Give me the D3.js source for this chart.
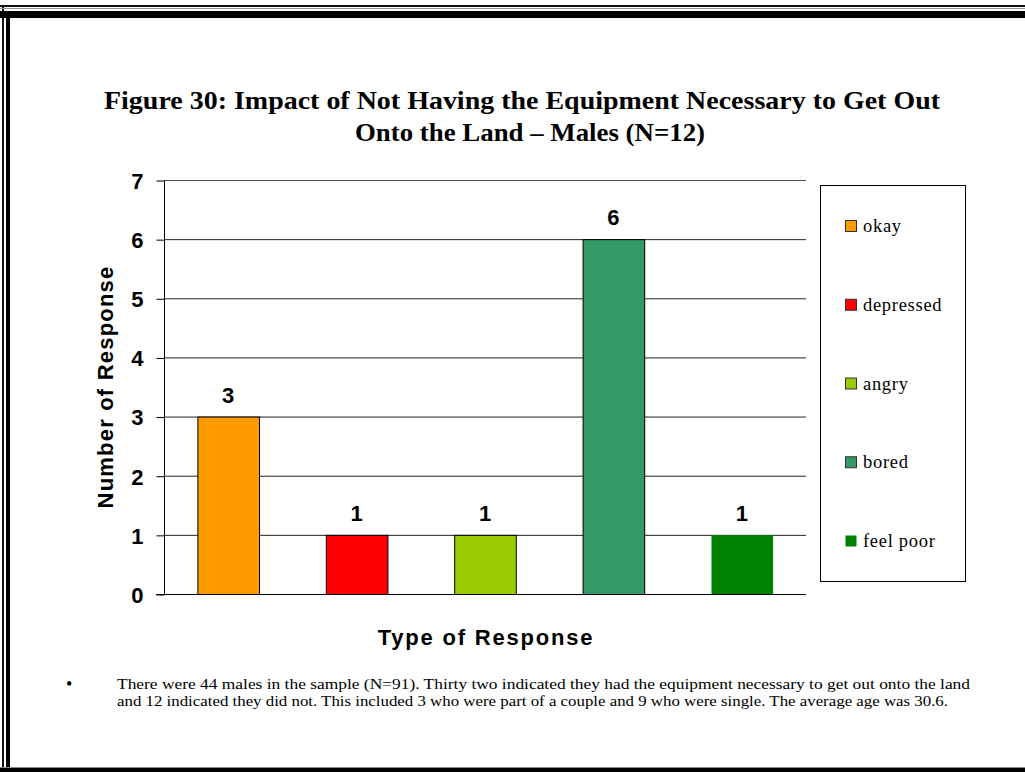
<!DOCTYPE html>
<html>
<head>
<meta charset="utf-8">
<script src="https://cdn.jsdelivr.net/npm/d3@7"></script>
<style>
  html, body { margin: 0; padding: 0; background: #fff; }
  svg { display: block; }
</style>
</head>
<body>
<div id="chart"></div>
<script>
// data
const categories = ['okay', 'depressed', 'angry', 'bored', 'feel poor'];
const values = [3, 1, 1, 6, 1];
const colors = ['#FF9900', '#FF0000', '#99CC00', '#339966', '#008000'];
const yTicks = [0, 1, 2, 3, 4, 5, 6, 7];
const titleLines = [
  'Figure 30: Impact of Not Having the Equipment Necessary to Get Out',
  'Onto the Land \u2013 Males (N=12)'
];
const noteLines = [
  'There were 44 males in the sample (N=91). Thirty two indicated they had the equipment necessary to get out onto the land',
  'and 12 indicated they did not. This included 3 who were part of a couple and 9 who were single. The average age was 30.6.'
];

const width = 1025, height = 772;
const plot = { left: 164, right: 806, top: 180, bottom: 594 };

const svg = d3.select('#chart').append('svg')
  .attr('width', width)
  .attr('height', height);

// page frame
const frame = svg.append('g');
frame.append('rect').attr('x', 0).attr('y', 5).attr('width', width).attr('height', 2).attr('fill', '#111');
frame.append('rect').attr('x', 2).attr('y', 5).attr('width', 2).attr('height', height).attr('fill', '#111');
frame.append('rect').attr('x', 0).attr('y', 8).attr('width', width).attr('height', 1).attr('fill', '#999');
frame.append('rect').attr('x', 0).attr('y', 11).attr('width', width).attr('height', 7).attr('fill', '#000');
frame.append('rect').attr('x', 6).attr('y', 11).attr('width', 4).attr('height', height).attr('fill', '#000');
frame.append('rect').attr('x', 0).attr('y', 768).attr('width', width).attr('height', 4).attr('fill', '#000');
frame.append('rect').attr('x', 0).attr('y', 767).attr('width', width).attr('height', 1).attr('fill', '#888');

// title
svg.append('g')
  .selectAll('text')
  .data(titleLines)
  .join('text')
  .attr('x', (d, i) => i === 0 ? 522 : 530)
  .attr('y', (d, i) => 109 + i * 32)
  .attr('text-anchor', 'middle')
  .attr('textLength', (d, i) => i === 0 ? 836 : 350)
  .attr('lengthAdjust', 'spacingAndGlyphs')
  .style('font-family', '"Liberation Serif", "Times New Roman", serif')
  .style('font-weight', 'bold')
  .style('font-size', '25px')
  .text(d => d);

// scales
const x = d3.scaleBand()
  .domain(categories)
  .range([plot.left, plot.right])
  .paddingInner(0.52)
  .paddingOuter(0.26);

const y = d3.scaleLinear()
  .domain([0, 7])
  .range([plot.bottom, plot.top]);

// gridlines
svg.append('g')
  .selectAll('line')
  .data(yTicks.filter(d => d > 0))
  .join('line')
  .attr('x1', plot.left)
  .attr('x2', plot.right)
  .attr('y1', d => y(d) + 0.5)
  .attr('y2', d => y(d) + 0.5)
  .attr('stroke', (d) => d === 7 ? '#555' : '#222')
  .attr('stroke-width', 1);

// bars
svg.append('g')
  .selectAll('rect')
  .data(values)
  .join('rect')
  .attr('x', (d, i) => x(categories[i]) + 0.5)
  .attr('y', d => y(d) + 0.5)
  .attr('width', x.bandwidth())
  .attr('height', d => y(0) - y(d))
  .attr('fill', (d, i) => colors[i])
  .attr('stroke', (d, i) => i === 4 ? 'none' : '#000')
  .attr('stroke-width', 1);

// value labels
svg.append('g')
  .selectAll('text')
  .data(values)
  .join('text')
  .attr('x', (d, i) => x(categories[i]) + x.bandwidth() / 2)
  .attr('y', d => y(d) - 14)
  .attr('text-anchor', 'middle')
  .style('font-family', '"Liberation Sans", Arial, sans-serif')
  .style('font-weight', 'bold')
  .style('font-size', '22px')
  .text(d => d);

// y axis
const yAxis = svg.append('g')
  .attr('transform', `translate(${plot.left + 0.5},0.5)`)
  .call(d3.axisLeft(y).tickValues(yTicks).tickSize(8).tickPadding(13).tickFormat(d3.format('d')));
yAxis.select('.domain').attr('stroke', '#000').attr('d', `M0,${plot.top}V${plot.bottom}`);
yAxis.selectAll('.tick line').attr('stroke', '#000');
yAxis.selectAll('.tick text')
  .attr('fill', '#000')
  .attr('dy', '0.36em')
  .style('font-family', '"Liberation Sans", Arial, sans-serif')
  .style('font-weight', 'bold')
  .style('font-size', '22px');

// x axis line
svg.append('line')
  .attr('x1', plot.left - 8)
  .attr('x2', plot.right)
  .attr('y1', plot.bottom + 0.5)
  .attr('y2', plot.bottom + 0.5)
  .attr('stroke', '#000');

// axis titles
svg.append('text')
  .attr('transform', `translate(113,387) rotate(-90)`)
  .attr('text-anchor', 'middle')
  .style('font-family', '"Liberation Sans", Arial, sans-serif')
  .style('font-weight', 'bold')
  .style('font-size', '22px')
  .style('letter-spacing', '1.2px')
  .text('Number of Response');

svg.append('text')
  .attr('x', 486)
  .attr('y', 645)
  .attr('text-anchor', 'middle')
  .style('font-family', '"Liberation Sans", Arial, sans-serif')
  .style('font-weight', 'bold')
  .style('font-size', '22px')
  .style('letter-spacing', '1.8px')
  .text('Type of Response');

// legend
const legend = svg.append('g');
legend.append('rect')
  .attr('x', 820.5).attr('y', 185.5)
  .attr('width', 145).attr('height', 396)
  .attr('fill', '#fff')
  .attr('stroke', '#000');

const legendY = d3.scalePoint()
  .domain(categories)
  .range([226, 541]);

const items = legend.selectAll('g.item')
  .data(categories)
  .join('g')
  .attr('class', 'item')
  .attr('transform', d => `translate(845,${legendY(d)})`);

items.append('rect')
  .attr('x', 0.5).attr('y', -5.5)
  .attr('width', 11).attr('height', 11)
  .attr('fill', (d, i) => colors[i])
  .attr('stroke', (d, i) => i === 4 ? 'none' : '#333');

items.append('text')
  .attr('x', 18)
  .attr('y', 6)
  .style('font-family', '"Liberation Serif", "Times New Roman", serif')
  .style('font-size', '18.5px')
  .style('letter-spacing', '0.7px')
  .text(d => d);

// note below chart
svg.append('text')
  .attr('x', 66)
  .attr('y', 690)
  .style('font-family', '"Liberation Serif", "Times New Roman", serif')
  .style('font-size', '18px')
  .text('\u2022');

svg.append('g')
  .selectAll('text')
  .data(noteLines)
  .join('text')
  .attr('x', 117)
  .attr('y', (d, i) => 689 + i * 17)
  .attr('textLength', (d, i) => i === 0 ? 853 : 831)
  .attr('lengthAdjust', 'spacingAndGlyphs')
  .style('font-family', '"Liberation Serif", "Times New Roman", serif')
  .style('font-size', '15px')
  .text(d => d);
</script>
</body>
</html>
